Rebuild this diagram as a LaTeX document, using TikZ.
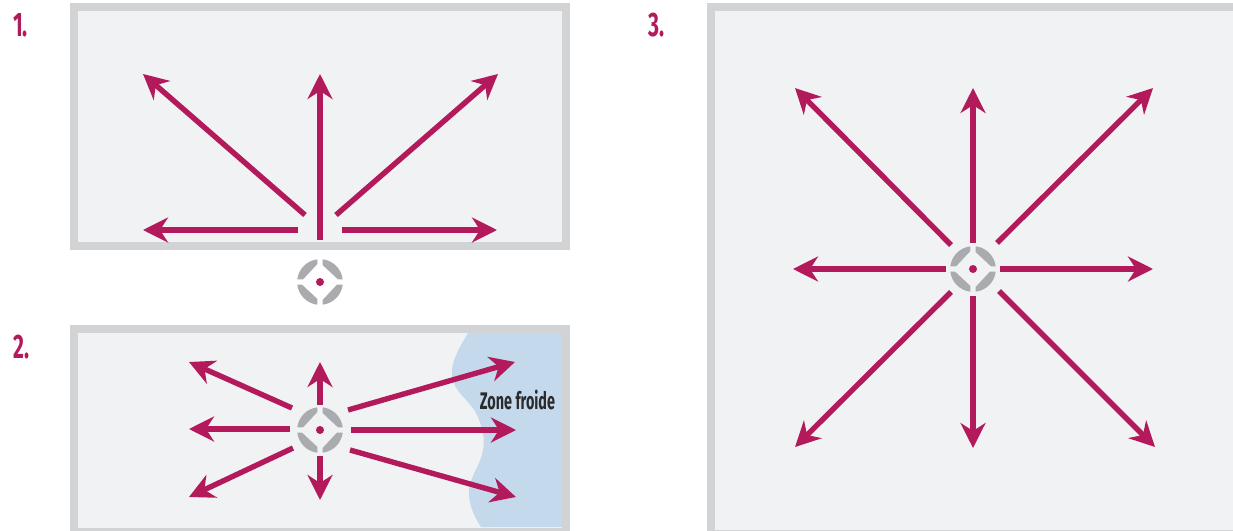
\documentclass[tikz,border=0pt]{standalone}
\usepackage{fontspec}
\setmainfont{Liberation Sans}
\newfontfamily\condfont[FakeStretch=0.62]{Fira Sans}
\newfontfamily\zonefont[FakeStretch=0.6]{Fira Sans}
\usetikzlibrary{arrows.meta}
\definecolor{framegray}{HTML}{D1D3D5}
\definecolor{panelfill}{HTML}{F1F2F4}
\definecolor{crimson}{HTML}{B31A5C}
\definecolor{sensorgray}{HTML}{A9ABAE}
\definecolor{coldblue}{HTML}{C5D9EC}
\definecolor{labelink}{HTML}{2B2B2D}
\tikzset{
  panel/.style={draw=framegray,line width=8pt,fill=panelfill},
  flow/.style={draw=crimson,line width=5.4pt,-{Stealth[length=25pt,width=25pt,inset=8pt]}},
  steplabel/.style={text=crimson,anchor=base west,inner sep=0pt,font=\condfont\fontsize{34}{34}\selectfont\bfseries},
  zonelabel/.style={text=labelink,inner sep=0pt,font=\zonefont\fontsize{24}{24}\selectfont\bfseries},
  dot/.style={circle,fill=crimson,draw=none,minimum size=8pt,inner sep=0pt}
}
\newcommand{\sensor}[3]{%
  \begin{scope}[shift={(#1,#2)}]
    \foreach \r in {0,90,180,270}{
      \fill[sensorgray,rotate=\r] (2.6,-22.7) arc[start angle=-83.4,end angle=-6.6,radius=22.85] -- (18,-2.6) -- (2.6,-17) -- cycle;
    }
    \node[dot] (#3) at (0,0) {};
  \end{scope}}
\begin{document}
\begin{tikzpicture}[x=1pt,y=-1pt]
\useasboundingbox (0,0) rectangle (1233,530);
% panels
\draw[panel] (74,7) rectangle (566,246);
\draw[panel] (74,329) rectangle (566,532);
\draw[panel] (711,7) rectangle (1237,534);
% cold zone
\fill[coldblue] (468,333) .. controls (458,350) and (451,362) .. (452,375)
  .. controls (453,392) and (470,400) .. (477,415)
  .. controls (483,428) and (485,440) .. (483,450)
  .. controls (481,465) and (468,478) .. (469,495)
  .. controls (470,508) and (475,518) .. (481,527)
  -- (562,527) -- (562,333) -- cycle;
% labels
\node[steplabel] (n1) at (13,36) {1.};
\node[steplabel] (n2) at (13,358) {2.};
\node[steplabel] (n3) at (648,36) {3.};
\node[zonelabel] (zone) at (517.5,399.5) {Zone froide};
% sensors
\sensor{320}{282}{sa}
\sensor{320}{430}{sb}
\sensor{973}{269}{sc}
% connectors
\foreach \nm/\sx/\sy/\ex/\ey in {
  au/320/240/320/74, aul/305/215/143/74, aur/336/215/498/74, al/298/230/143/230, ar/342/230/497/230,
  bu/320/405/320/362, bul/292/408/189/362, bl/290/429/189/429, bdl/293/448/189/497, bd/320/456/320/500,
  bur/348/410/515/362, br/351/430/516/430, bdr/350/450/516/497,
  cu/973/243/973/88, cul/951/245/795/88, cur/997/243/1153/88, cl/946/269/793/269, cr/1000/269/1153/269,
  cdl/951/292/795/447, cd/973/296/973/448, cdr/999/291/1155/447}{
  \coordinate (\nm-s) at (\sx,\sy);
  \coordinate (\nm-e) at (\ex,\ey);
  \draw[flow] (\nm-s) -- (\nm-e);
}
\end{tikzpicture}
\end{document}
